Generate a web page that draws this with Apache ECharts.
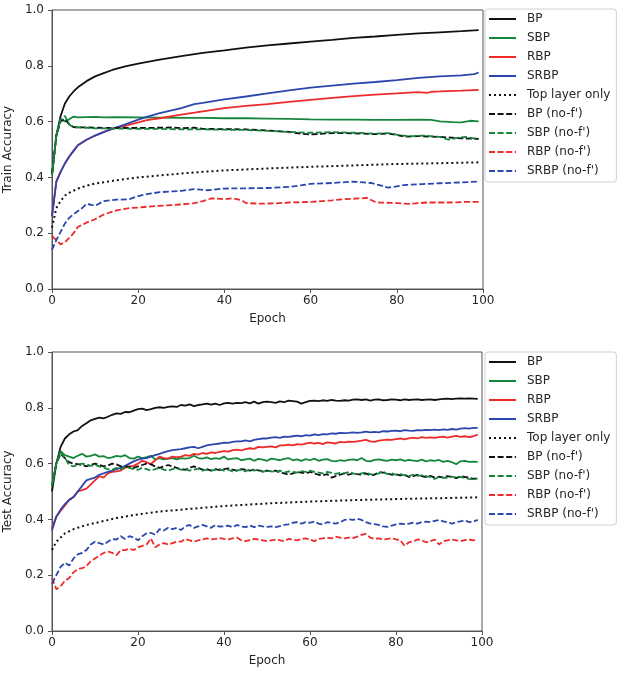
<!DOCTYPE html>
<html>
<head>
<meta charset="utf-8">
<script src="https://cdn.jsdelivr.net/npm/echarts@6/dist/echarts.min.js"></script>
<style>html,body{margin:0;padding:0;background:#fff}#c{width:628px;height:675px}</style>
</head>
<body>
<div id="c"></div>
<script>
// ---------- data ----------
const names = ["BP","SBP","RBP","SRBP","Top layer only","BP (no-f')","SBP (no-f')","RBP (no-f')","SRBP (no-f')"];
const xTicks = [0,20,40,60,80,100];
const yTicks = [0,0.2,0.4,0.6,0.8,1.0];

// Train accuracy: [epoch, value]
const trainBP = [[0,0.41],[1,0.55],[2,0.62],[3,0.665],[4,0.69],[5,0.708],[6,0.723],[8,0.745],[10,0.762],[12,0.774],[14,0.785],[17,0.798],[20,0.808],[25,0.822],[30,0.835],[35,0.846],[40,0.855],[45,0.865],[50,0.873],[55,0.88],[60,0.887],[65,0.893],[70,0.9],[75,0.905],[80,0.911],[85,0.916],[90,0.92],[95,0.924],[99,0.928]];
const trainSBP = [[0,0.41],[1,0.55],[2,0.61],[3,0.60],[4,0.608],[5,0.618],[6,0.615],[8,0.616],[10,0.617],[12,0.615],[15,0.616],[20,0.615],[25,0.614],[30,0.613],[35,0.613],[40,0.612],[45,0.612],[50,0.611],[55,0.61],[60,0.608],[65,0.607],[70,0.607],[75,0.606],[80,0.606],[85,0.607],[88,0.606],[90,0.601],[93,0.598],[95,0.597],[97,0.603],[99,0.601]];
const trainRBP = [[0,0.26],[1,0.385],[2,0.42],[3,0.45],[4,0.475],[5,0.495],[6,0.515],[8,0.535],[10,0.55],[12,0.563],[14,0.575],[17,0.585],[20,0.597],[22,0.605],[25,0.612],[30,0.625],[33,0.632],[35,0.637],[40,0.648],[45,0.656],[50,0.663],[55,0.671],[60,0.678],[65,0.685],[70,0.691],[75,0.697],[80,0.701],[85,0.706],[87,0.703],[88,0.707],[90,0.708],[95,0.711],[99,0.714]];
const trainSRBP = [[0,0.26],[1,0.385],[2,0.42],[3,0.45],[4,0.475],[5,0.495],[6,0.515],[8,0.535],[10,0.55],[12,0.562],[14,0.574],[17,0.59],[20,0.607],[22,0.617],[25,0.63],[30,0.648],[33,0.663],[35,0.667],[40,0.68],[45,0.69],[50,0.701],[55,0.712],[60,0.722],[65,0.729],[70,0.736],[75,0.742],[80,0.749],[85,0.757],[90,0.762],[95,0.766],[98,0.77],[99,0.776]];
const trainTop = [[0,0.22],[1,0.29],[2,0.315],[3,0.335],[4,0.345],[6,0.36],[8,0.37],[10,0.378],[15,0.39],[20,0.40],[25,0.407],[30,0.414],[35,0.42],[40,0.425],[50,0.432],[60,0.438],[70,0.443],[80,0.448],[90,0.451],[99,0.454]];
const trainBPnf = [[0,0.41],[1,0.55],[2,0.60],[3,0.61],[4,0.59],[5,0.58],[8,0.579],[10,0.578],[15,0.577],[20,0.577],[25,0.578],[28,0.579],[30,0.576],[33,0.578],[35,0.574],[40,0.573],[45,0.572],[50,0.568],[55,0.563],[58,0.556],[60,0.554],[63,0.557],[65,0.559],[70,0.558],[75,0.555],[78,0.557],[80,0.552],[82,0.546],[85,0.548],[90,0.545],[95,0.54],[99,0.538]];
const trainSBPnf = [[0,0.41],[1,0.55],[2,0.605],[3,0.62],[4,0.59],[5,0.58],[8,0.578],[10,0.576],[15,0.575],[20,0.574],[25,0.574],[30,0.572],[35,0.572],[40,0.571],[45,0.57],[50,0.567],[55,0.563],[60,0.56],[65,0.562],[70,0.56],[75,0.557],[78,0.559],[80,0.553],[83,0.547],[86,0.55],[90,0.545],[92,0.535],[94,0.542],[96,0.545],[99,0.537]];
const trainRBPnf = [[0,0.19],[1,0.175],[2,0.16],[3,0.168],[4,0.183],[5,0.2],[6,0.222],[8,0.238],[10,0.25],[12,0.267],[15,0.282],[18,0.29],[20,0.292],[22,0.295],[25,0.298],[30,0.303],[33,0.308],[35,0.315],[37,0.325],[40,0.322],[42,0.325],[44,0.318],[45,0.308],[48,0.306],[52,0.307],[55,0.31],[60,0.312],[65,0.318],[68,0.322],[72,0.325],[73,0.327],[75,0.312],[76,0.31],[80,0.308],[83,0.305],[87,0.31],[92,0.31],[96,0.312],[99,0.312]];
const trainSRBPnf = [[0,0.14],[1,0.175],[2,0.205],[3,0.235],[4,0.255],[5,0.268],[7,0.29],[8,0.305],[9,0.302],[10,0.298],[12,0.315],[15,0.32],[18,0.322],[20,0.333],[22,0.34],[25,0.347],[28,0.35],[30,0.352],[33,0.358],[36,0.354],[40,0.36],[45,0.361],[50,0.362],[55,0.366],[58,0.372],[60,0.377],[65,0.38],[70,0.385],[74,0.38],[76,0.372],[78,0.363],[80,0.368],[82,0.373],[86,0.376],[90,0.379],[95,0.382],[99,0.385]];

// Test accuracy: one value per epoch 0..99
const testBP = [0.50,0.60,0.66,0.69,0.705,0.715,0.72,0.735,0.745,0.755,
0.76,0.765,0.762,0.768,0.775,0.78,0.778,0.785,0.784,0.79,
0.795,0.797,0.792,0.795,0.80,0.802,0.80,0.803,0.805,0.803,
0.81,0.808,0.812,0.806,0.81,0.812,0.815,0.811,0.815,0.81,
0.816,0.818,0.815,0.818,0.817,0.82,0.816,0.822,0.815,0.82,
0.822,0.82,0.818,0.823,0.82,0.826,0.824,0.822,0.815,0.82,
0.825,0.826,0.824,0.827,0.825,0.828,0.826,0.825,0.827,0.826,
0.829,0.83,0.828,0.83,0.826,0.829,0.83,0.827,0.828,0.83,
0.829,0.827,0.83,0.828,0.829,0.83,0.828,0.829,0.83,0.828,
0.83,0.832,0.833,0.831,0.833,0.834,0.833,0.834,0.833,0.832];
const testSBP = [0.52,0.60,0.645,0.63,0.625,0.62,0.628,0.635,0.625,0.628,
0.633,0.625,0.627,0.62,0.622,0.628,0.625,0.63,0.62,0.618,
0.625,0.62,0.623,0.628,0.615,0.62,0.615,0.618,0.62,0.615,
0.62,0.618,0.62,0.628,0.62,0.618,0.622,0.616,0.62,0.617,
0.625,0.615,0.618,0.62,0.612,0.615,0.618,0.61,0.617,0.614,
0.61,0.618,0.615,0.612,0.617,0.62,0.612,0.615,0.61,0.616,
0.612,0.618,0.61,0.614,0.616,0.61,0.608,0.612,0.61,0.613,
0.615,0.612,0.62,0.61,0.608,0.613,0.615,0.612,0.61,0.614,
0.612,0.615,0.61,0.613,0.611,0.609,0.614,0.608,0.612,0.61,
0.613,0.606,0.61,0.605,0.598,0.608,0.61,0.606,0.607,0.606];
const testRBP = [0.37,0.41,0.43,0.45,0.47,0.48,0.50,0.505,0.51,0.525,
0.54,0.555,0.55,0.565,0.57,0.572,0.575,0.585,0.59,0.592,
0.60,0.61,0.605,0.598,0.612,0.625,0.62,0.618,0.625,0.622,
0.625,0.63,0.628,0.635,0.632,0.638,0.635,0.64,0.638,0.642,
0.645,0.643,0.648,0.65,0.647,0.652,0.655,0.653,0.66,0.658,
0.66,0.662,0.658,0.665,0.665,0.668,0.665,0.67,0.668,0.672,
0.675,0.672,0.674,0.67,0.676,0.674,0.672,0.678,0.676,0.679,
0.678,0.68,0.682,0.685,0.68,0.678,0.682,0.684,0.686,0.685,
0.688,0.69,0.687,0.69,0.693,0.69,0.695,0.692,0.694,0.692,
0.695,0.697,0.693,0.697,0.699,0.696,0.698,0.695,0.698,0.704];
const testSRBP = [0.36,0.41,0.435,0.455,0.47,0.48,0.50,0.52,0.54,0.545,
0.55,0.56,0.565,0.57,0.575,0.58,0.585,0.592,0.60,0.608,
0.614,0.618,0.62,0.625,0.63,0.635,0.64,0.645,0.648,0.65,
0.652,0.655,0.658,0.66,0.655,0.66,0.665,0.668,0.67,0.672,
0.675,0.674,0.678,0.68,0.68,0.683,0.68,0.685,0.688,0.69,
0.69,0.693,0.695,0.692,0.697,0.696,0.698,0.70,0.698,0.702,
0.70,0.705,0.702,0.706,0.705,0.708,0.707,0.71,0.709,0.71,
0.712,0.71,0.712,0.715,0.712,0.714,0.712,0.716,0.715,0.717,
0.718,0.716,0.72,0.718,0.717,0.72,0.719,0.721,0.72,0.722,
0.72,0.723,0.721,0.724,0.722,0.725,0.727,0.725,0.728,0.728];
const testTop = [[0,0.29],[1,0.32],[2,0.335],[3,0.35],[5,0.365],[8,0.38],[10,0.387],[15,0.405],[20,0.418],[25,0.428],[30,0.435],[40,0.448],[50,0.457],[60,0.464],[70,0.469],[80,0.473],[90,0.476],[99,0.479]];
const testBPnf = [0.52,0.60,0.635,0.62,0.605,0.60,0.598,0.595,0.59,0.595,
0.60,0.595,0.59,0.593,0.60,0.597,0.59,0.59,0.588,0.585,
0.59,0.595,0.60,0.597,0.59,0.585,0.59,0.595,0.59,0.585,
0.58,0.578,0.585,0.59,0.585,0.578,0.58,0.575,0.58,0.577,
0.58,0.583,0.578,0.575,0.58,0.578,0.575,0.578,0.576,0.573,
0.575,0.572,0.575,0.568,0.565,0.56,0.565,0.57,0.568,0.565,
0.57,0.565,0.56,0.558,0.562,0.55,0.555,0.56,0.565,0.56,
0.565,0.562,0.56,0.565,0.558,0.56,0.57,0.568,0.565,0.56,
0.562,0.558,0.56,0.552,0.555,0.56,0.555,0.552,0.556,0.55,
0.553,0.55,0.555,0.552,0.548,0.555,0.552,0.55,0.545,0.548];
const testSBPnf = [0.52,0.60,0.64,0.62,0.595,0.59,0.595,0.60,0.597,0.592,
0.595,0.59,0.585,0.58,0.578,0.585,0.58,0.588,0.585,0.58,
0.578,0.585,0.58,0.575,0.58,0.585,0.578,0.575,0.58,0.583,
0.578,0.58,0.575,0.578,0.582,0.575,0.578,0.575,0.578,0.58,
0.575,0.578,0.572,0.575,0.578,0.572,0.58,0.575,0.578,0.57,
0.575,0.572,0.57,0.575,0.568,0.572,0.57,0.568,0.573,0.57,
0.575,0.57,0.568,0.565,0.57,0.567,0.563,0.567,0.565,0.57,
0.565,0.562,0.565,0.568,0.562,0.56,0.565,0.572,0.562,0.565,
0.56,0.562,0.558,0.555,0.56,0.556,0.558,0.555,0.552,0.545,
0.552,0.55,0.548,0.553,0.55,0.552,0.548,0.545,0.543,0.547];
const testRBPnf = [0.19,0.15,0.16,0.18,0.19,0.21,0.222,0.225,0.232,0.25,
0.26,0.27,0.28,0.285,0.28,0.272,0.29,0.29,0.295,0.29,
0.30,0.305,0.31,0.332,0.30,0.31,0.315,0.31,0.315,0.32,
0.32,0.33,0.325,0.32,0.325,0.328,0.332,0.328,0.33,0.333,
0.33,0.328,0.332,0.335,0.325,0.322,0.326,0.33,0.328,0.325,
0.322,0.325,0.328,0.325,0.322,0.33,0.328,0.325,0.33,0.332,
0.328,0.322,0.33,0.332,0.335,0.332,0.338,0.335,0.332,0.335,
0.333,0.338,0.345,0.348,0.335,0.33,0.332,0.328,0.33,0.333,
0.328,0.325,0.305,0.318,0.322,0.328,0.325,0.318,0.322,0.328,
0.31,0.322,0.325,0.328,0.325,0.322,0.326,0.328,0.325,0.326];
const testSRBPnf = [0.17,0.20,0.23,0.245,0.235,0.26,0.275,0.28,0.29,0.31,
0.32,0.315,0.31,0.32,0.33,0.328,0.34,0.33,0.34,0.335,
0.325,0.34,0.35,0.352,0.345,0.365,0.36,0.37,0.365,0.37,
0.362,0.375,0.38,0.37,0.375,0.38,0.375,0.37,0.38,0.374,
0.375,0.378,0.372,0.38,0.375,0.372,0.378,0.372,0.378,0.375,
0.373,0.375,0.372,0.376,0.38,0.382,0.388,0.39,0.385,0.39,
0.388,0.392,0.385,0.382,0.39,0.388,0.385,0.39,0.398,0.40,
0.398,0.402,0.398,0.39,0.385,0.383,0.38,0.375,0.373,0.378,
0.382,0.385,0.383,0.385,0.388,0.385,0.39,0.392,0.39,0.395,
0.398,0.393,0.39,0.385,0.39,0.393,0.397,0.39,0.392,0.398];

// ---------- styling ----------
const COL = {k:'#111111', g:'#15873d', r:'#ee2a2a', b:'#2b46ae'};
const DASH = [6, 2.6], DOT = [2, 3];
const styles = [
  {c:COL.k, t:'solid', w:1.8}, {c:COL.g, t:'solid', w:1.8}, {c:COL.r, t:'solid', w:1.8}, {c:COL.b, t:'solid', w:1.8},
  {c:COL.k, t:DOT, w:2}, {c:COL.k, t:DASH, w:1.8}, {c:COL.g, t:DASH, w:1.8}, {c:COL.r, t:DASH, w:1.8}, {c:COL.b, t:DASH, w:1.8}
];
const perEpoch = arr => arr.map((v, i) => [i, v]);
const trainSets = [trainBP, trainSBP, trainRBP, trainSRBP, trainTop, trainBPnf, trainSBPnf, trainRBPnf, trainSRBPnf];
const testSets = [perEpoch(testBP), perEpoch(testSBP), perEpoch(testRBP), perEpoch(testSRBP), testTop,
                  perEpoch(testBPnf), perEpoch(testSBPnf), perEpoch(testRBPnf), perEpoch(testSRBPnf)];
const series = [];
[[trainSets,0],[testSets,1]].forEach(([sets, gi]) => {
  sets.forEach((d, i) => {
    series.push({
      type:'line', name:names[i], xAxisIndex:gi, yAxisIndex:gi, data:d,
      symbol:'none', clip:true,
      lineStyle:{color:styles[i].c, width:styles[i].w, type:styles[i].t},
      itemStyle:{color:styles[i].c}
    });
  });
});

const FONT = 'DejaVu Sans';
const TXT = '#262626';
const AX = '#555555';
function xAx(gi){
  return {type:'value', gridIndex:gi, min:0, max:100, interval:20,
    name:'Epoch', nameLocation:'middle', nameGap:24,
    nameTextStyle:{fontFamily:FONT, fontSize:12, color:TXT},
    axisLine:{show:true, onZero:false, lineStyle:{color:AX, width:1}},
    axisTick:{show:true, length:4, lineStyle:{color:AX}},
    axisLabel:{fontFamily:FONT, fontSize:12, color:TXT, margin:6},
    splitLine:{show:false}};
}
function yAx(gi, nm){
  return {type:'value', gridIndex:gi, min:0, max:1, interval:0.2,
    name:nm, nameLocation:'middle', nameGap:33,
    nameTextStyle:{fontFamily:FONT, fontSize:12, color:TXT},
    axisLine:{show:true, onZero:false, lineStyle:{color:AX, width:1}},
    axisTick:{show:true, length:4, lineStyle:{color:AX}},
    axisLabel:{fontFamily:FONT, fontSize:12, color:TXT, margin:8, formatter:v => v.toFixed(1)},
    splitLine:{show:false}};
}
function leg(top){
  return {orient:'vertical', left:485, top:top, data:names,
    itemWidth:27, itemHeight:14, itemGap:5,
    padding:[3,6,4,3],
    itemStyle:{opacity:0},
    backgroundColor:'#ffffff', borderColor:'#d0d0d0', borderWidth:1, borderRadius:3,
    textStyle:{fontFamily:FONT, fontSize:12, color:TXT, padding:[0,0,0,6], lineHeight:14},
    selectedMode:false};
}
function grid(top, w){
  return {left:52, top:top, width:w, height:279, show:true, borderColor:AX, borderWidth:1,
    backgroundColor:'transparent', containLabel:false, outerBoundsMode:'none'};
}

const chart = echarts.init(document.getElementById('c'), null, {renderer:'canvas'});
chart.setOption({
  animation:false,
  backgroundColor:'#ffffff',
  grid:[grid(10, 431), grid(352, 430)],
  xAxis:[xAx(0), xAx(1)],
  yAxis:[yAx(0,'Train Accuracy'), yAx(1,'Test Accuracy')],
  legend:[leg(9), leg(352)],
  series:series
});
</script>
</body>
</html>
